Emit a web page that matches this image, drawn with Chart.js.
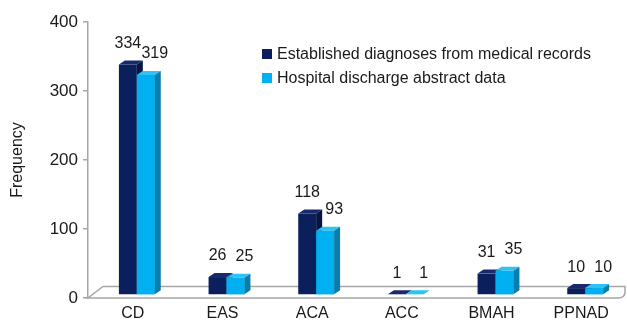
<!DOCTYPE html>
<html>
<head>
<meta charset="utf-8">
<script src="https://cdn.jsdelivr.net/npm/chart.js@4"></script>
<style>
  html, body { margin: 0; padding: 0; background: #fff; }
</style>
</head>
<body>
<canvas id="freq" width="627" height="320"></canvas>
<script>
// datos
const categories = ['CD', 'EAS', 'ACA', 'ACC', 'BMAH', 'PPNAD'];
const medicalRecords = [334, 26, 118, 1, 31, 10];
const dischargeAbstract = [319, 25, 93, 1, 35, 10];
const yTicks = [0, 100, 200, 300, 400];
const seriesNames = ['Established diagnoses from medical records', 'Hospital discharge abstract data'];

const FONT = 'Liberation Sans, Arial, sans-serif';
const TXT = '#1a1a1a';
const GRAY = '#a6a6a6';

// estilo 3D
const shift = { x: 4, y: -3 };
const depth = { dx: 6, dy: 4 };

const faces = [
    { front: '#0b1f5c', top: '#172b6c', side: '#061640' },
    { front: '#00b0f0', top: '#30c2f5', side: '#0a7eab' }
];

function drawFaces(ctx, meta, f) {
    meta.data.forEach(bar => {
        const p = bar.getProps(['x', 'y', 'base', 'width'], true);
        const l = p.x - p.width / 2, r = p.x + p.width / 2;
        ctx.fillStyle = f.top;
        ctx.beginPath();
        ctx.moveTo(l, p.y);
        ctx.lineTo(l + depth.dx, p.y - depth.dy);
        ctx.lineTo(r + depth.dx, p.y - depth.dy);
        ctx.lineTo(r, p.y);
        ctx.closePath();
        ctx.fill();
        ctx.fillStyle = f.side;
        ctx.beginPath();
        ctx.moveTo(r, p.y);
        ctx.lineTo(r + depth.dx, p.y - depth.dy);
        ctx.lineTo(r + depth.dx, p.base - depth.dy);
        ctx.lineTo(r, p.base);
        ctx.closePath();
        ctx.fill();
    });
}

const bar3d = {
    id: 'bar3d',
    beforeDatasetsDraw(chart) {
        const ctx = chart.ctx;
        const a = chart.chartArea;
        // suelo
        ctx.save();
        ctx.strokeStyle = GRAY;
        ctx.lineWidth = 1.5;
        ctx.fillStyle = '#fff';
        ctx.beginPath();
        ctx.moveTo(a.left, a.bottom);
        ctx.lineTo(a.right - 8, a.bottom);
        ctx.quadraticCurveTo(a.right - 1, a.bottom, a.right - 1, a.bottom - 6);
        ctx.lineTo(a.right - 1, a.bottom - 11.5);
        ctx.lineTo(a.left + 15, a.bottom - 11.5);
        ctx.closePath();
        ctx.fill();
        ctx.stroke();
        ctx.restore();

        ctx.save();
        ctx.translate(shift.x, shift.y);
    },
    afterDatasetDraw(chart, args) {
        // la serie 0 se dibuja la ultima: caras 3D y luego la serie 1 encima
        if (args.index !== 0) return;
        const ctx = chart.ctx;
        drawFaces(ctx, args.meta, faces[0]);
        const light = chart.getDatasetMeta(1);
        light.data.forEach(bar => bar.draw(ctx));
        drawFaces(ctx, light, faces[1]);
    },
    afterDatasetsDraw(chart) {
        const ctx = chart.ctx;
        ctx.restore();

        // etiquetas de valores
        ctx.save();
        ctx.font = '16px ' + FONT;
        ctx.fillStyle = TXT;
        ctx.textAlign = 'center';
        ctx.textBaseline = 'middle';
        chart.data.datasets.forEach((ds, i) => {
            chart.getDatasetMeta(i).data.forEach((bar, j) => {
                const off = i === 1 ? 9 : 0;
                ctx.fillText(String(ds.data[j]), bar.x + shift.x + off, bar.y + shift.y - 21);
            });
        });

        // leyenda
        ctx.textAlign = 'left';
        seriesNames.forEach((name, i) => {
            const y = 54 + i * 24;
            ctx.fillStyle = faces[i].front;
            ctx.fillRect(262, y - 5, 10, 10);
            ctx.fillStyle = TXT;
            ctx.fillText(name, 277, y + 1);
        });
        ctx.restore();
    }
};

const ctx = document.getElementById('freq').getContext('2d');

new Chart(ctx, {
    type: 'bar',
    data: {
        labels: categories,
        datasets: [
            { label: seriesNames[0], data: medicalRecords, backgroundColor: faces[0].front },
            { label: seriesNames[1], data: dischargeAbstract, backgroundColor: faces[1].front }
        ]
    },
    options: {
        responsive: false,
        animation: false,
        layout: { padding: { top: 22, right: 1, left: 0, bottom: 0 } },
        datasets: { bar: { categoryPercentage: 0.4, barPercentage: 1 } },
        plugins: { legend: { display: false }, tooltip: { enabled: false } },
        scales: {
            x: {
                grid: { display: false, drawTicks: false },
                border: { display: false },
                ticks: { color: TXT, padding: 6, font: { family: FONT, size: 16 } },
                afterFit(s) { s.height = 22; }
            },
            y: {
                min: 0,
                max: 400,
                afterBuildTicks(s) { s.ticks = yTicks.map(v => ({ value: v })); },
                grid: { drawOnChartArea: false, tickLength: 5, color: GRAY, lineWidth: 1.5 },
                border: { color: GRAY, width: 1.5 },
                ticks: { color: TXT, padding: 5, font: { family: FONT, size: 17 } },
                title: { display: true, text: 'Frequency', color: TXT, padding: { top: 8, bottom: 0 }, font: { family: FONT, size: 16 } },
                afterFit(s) { s.width = 88; }
            }
        }
    },
    plugins: [bar3d]
});
</script>
</body>
</html>
